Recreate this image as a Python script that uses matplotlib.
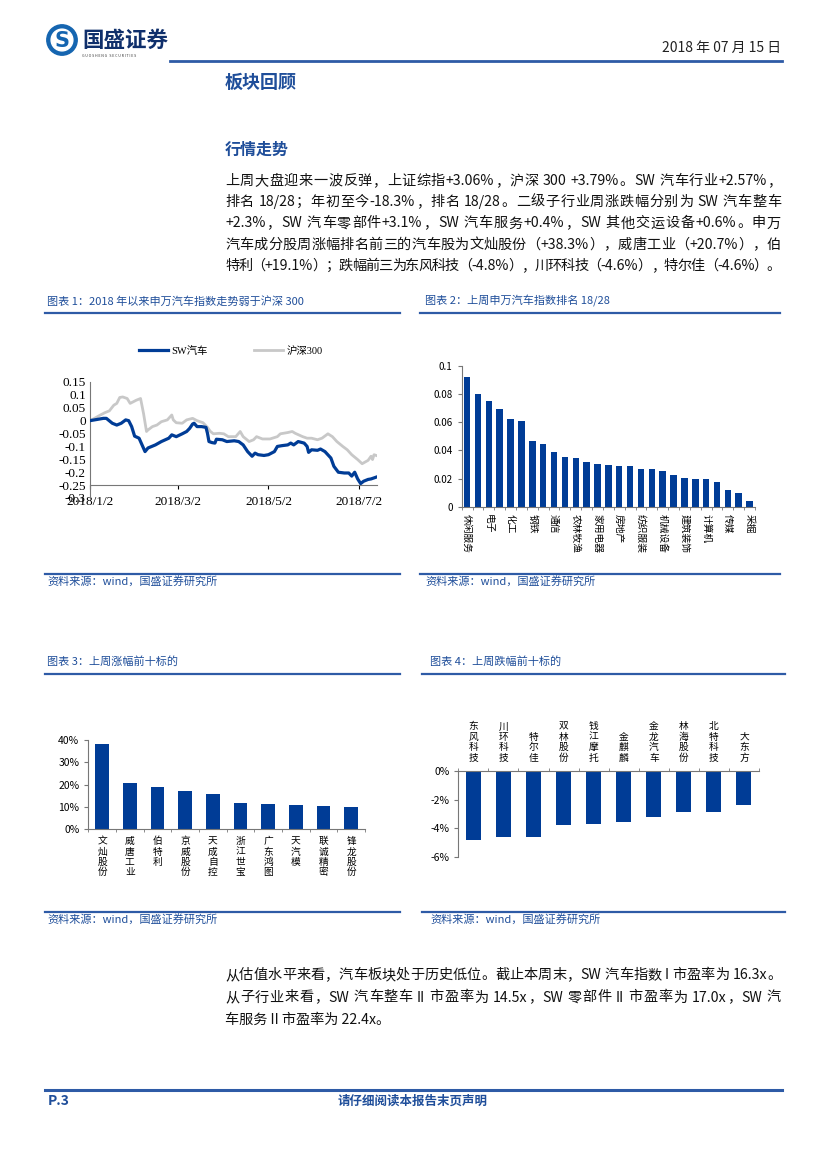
import re
import numpy as np
import pandas as pd
import matplotlib
matplotlib.use("Agg")
import matplotlib.pyplot as plt
from matplotlib.ticker import FuncFormatter, FixedLocator
from matplotlib.patches import Circle

plt.rcParams['font.family'] = ['Noto Sans CJK SC', 'DejaVu Sans']
plt.rcParams['axes.unicode_minus'] = False

W, H = 827, 1169
BLUE = "#003C96"
HEAD = "#1F4E9A"
LINE = "#2E5BA6"

# ---- chart 1: index trend (days since 2018/1/2, cumulative return) ----
sw_days = [0, 9, 11, 15, 18, 21, 24, 26, 28, 30, 33, 35, 37, 39, 44, 48, 53, 55, 58, 62,
           65, 67, 69, 70, 72, 75, 78, 79, 80, 82, 84, 85, 89, 92, 97, 100, 103, 106, 109,
           111, 113, 117, 120, 124, 126, 129, 133, 135, 137, 140, 144, 146, 147, 149, 153,
           155, 158, 162, 164, 167, 171, 174, 176, 178, 180, 182, 184, 187, 189, 191, 193]
sw_vals = [0.0, 0.009, 0.009, -0.01, -0.017, -0.01, 0.003, 0.0, -0.023, -0.06, -0.068,
           -0.094, -0.12, -0.106, -0.094, -0.081, -0.068, -0.055, -0.062, -0.051, -0.042,
           -0.03, -0.013, -0.01, -0.023, -0.023, -0.026, -0.049, -0.081, -0.085, -0.087,
           -0.072, -0.074, -0.081, -0.078, -0.081, -0.094, -0.12, -0.138, -0.126, -0.132,
           -0.135, -0.132, -0.12, -0.1, -0.097, -0.094, -0.087, -0.094, -0.081, -0.087,
           -0.1, -0.123, -0.113, -0.115, -0.11, -0.12, -0.145, -0.177, -0.2, -0.203,
           -0.203, -0.215, -0.2, -0.226, -0.244, -0.235, -0.228, -0.226, -0.222, -0.218]
hs_days = [0, 3, 7, 10, 13, 16, 18, 20, 22, 25, 27, 29, 31, 34, 36, 38, 39, 42, 45, 48,
           52, 55, 56, 58, 62, 65, 69, 72, 76, 79, 81, 83, 87, 90, 93, 98, 101, 103, 107,
           110, 112, 116, 121, 126, 128, 133, 136, 138, 143, 146, 149, 153, 156, 160, 163,
           166, 170, 173, 176, 180, 183, 187, 189, 190, 191, 193]
hs_vals = [0.0, 0.009, 0.022, 0.031, 0.038, 0.06, 0.067, 0.09, 0.092, 0.086, 0.067, 0.073,
           0.079, 0.086, 0.028, -0.042, -0.036, -0.023, -0.017, -0.004, 0.003, 0.022, 0.003,
           -0.008, -0.01, 0.003, 0.009, 0.0, -0.008, -0.026, -0.042, -0.051, -0.049, -0.051,
           -0.062, -0.062, -0.042, -0.062, -0.081, -0.074, -0.062, -0.071, -0.071, -0.062,
           -0.051, -0.046, -0.042, -0.049, -0.062, -0.068, -0.068, -0.074, -0.068, -0.051,
           -0.062, -0.081, -0.1, -0.113, -0.132, -0.151, -0.167, -0.154, -0.138, -0.151,
           -0.132, -0.136]
date_ticks = ["2018-01-02", "2018-03-02", "2018-05-02", "2018-07-02"]

# ---- chart 2: SW industries weekly change ----
ind_vals = [0.0919, 0.0801, 0.0749, 0.0692, 0.0621, 0.0607, 0.0467, 0.0448, 0.0389,
            0.0355, 0.0344, 0.0315, 0.0303, 0.0296, 0.0291, 0.0287, 0.0268, 0.0265,
            0.0256, 0.0223, 0.0206, 0.0199, 0.0194, 0.0173, 0.0121, 0.0097, 0.0040]
ind_labels = ["休闲服务", "电子", "化工", "钢铁", "通信", "农林牧渔", "家用电器", "房地产",
              "纺织服装", "机械设备", "建筑装饰", "计算机", "传媒", "采掘"]

# ---- chart 3: top 10 gainers ----
up_names = ["文灿股份", "威唐工业", "伯特利", "京威股份", "天成自控", "浙江世宝",
            "广东鸿图", "天汽模", "联诚精密", "锋龙股份"]
up_vals = [0.383, 0.207, 0.191, 0.173, 0.158, 0.119, 0.112, 0.109, 0.103, 0.100]

# ---- chart 4: top 10 losers ----
dn_names = ["东风科技", "川环科技", "特尔佳", "双林股份", "钱江摩托", "金麒麟",
            "金龙汽车", "林海股份", "北特科技", "大东方"]
dn_vals = [-0.048, -0.046, -0.046, -0.038, -0.037, -0.036, -0.032, -0.029, -0.029, -0.024]

para1 = [
    "上周大盘迎来一波反弹，上证综指+3.06%，沪深 300 +3.79%。SW 汽车行业+2.57%，",
    "排名 18/28；年初至今-18.3%，排名 18/28。二级子行业周涨跌幅分别为 SW 汽车整车",
    "+2.3%，SW 汽车零部件+3.1%，SW 汽车服务+0.4%，SW 其他交运设备+0.6%。申万",
    "汽车成分股周涨幅排名前三的汽车股为文灿股份（+38.3%），威唐工业（+20.7%），伯",
    "特利（+19.1%）；跌幅前三为东风科技（-4.8%），川环科技（-4.6%），特尔佳（-4.6%）。",
]
para2 = [
    "从估值水平来看，汽车板块处于历史低位。截止本周末，SW 汽车指数 I 市盈率为 16.3x。",
    "从子行业来看，SW 汽车整车 II 市盈率为 14.5x，SW 零部件 II 市盈率为 17.0x，SW 汽",
    "车服务 II 市盈率为 22.4x。",
]


def fx(x):
    return x / W


def fy(y):
    return 1 - y / H


def txt(x, y, s, **kw):
    return fig.text(fx(x), fy(y), s, **kw)


def hline(x0, x1, y, lw=1.6, color=LINE):
    fig.add_artist(plt.Line2D([fx(x0), fx(x1)], [fy(y), fy(y)], lw=lw, color=color))


def axes_px(x0, y0, x1, y1):
    return fig.add_axes([fx(x0), fy(y1), (x1 - x0) / W, (y1 - y0) / H])


def justify(x0, x1, y, line, **kw):
    # spread the tokens of one line so that it fills x0..x1
    tokens = re.findall(r'[A-Za-z0-9.+\-%/]+| |.', line)
    renderer = fig.canvas.get_renderer()
    widths = []
    for t in tokens:
        if t == ' ':
            widths.append(kw.get('fontsize', 10) * 0.3)
            continue
        a = txt(0, 0, t, **kw)
        widths.append(a.get_window_extent(renderer).width)
        a.remove()
    gap = (x1 - x0 - sum(widths)) / (len(tokens) - 1)
    x = x0
    for t, w in zip(tokens, widths):
        if t != ' ':
            txt(x, y, t, va='center', **kw)
        x += w + gap


fig = plt.figure(figsize=(W / 100, H / 100), dpi=100)

# ---- page header ----
logo = fig.add_axes([fx(46), fy(56), 32 / W, 32 / H])
logo.set_xlim(-1, 1)
logo.set_ylim(-1, 1)
logo.set_aspect('equal')
logo.axis('off')
logo.add_patch(Circle((0, 0), 0.95, color="#1565B0"))
logo.add_patch(Circle((0, 0), 0.68, color="white"))
logo.text(0, -0.05, "S", ha='center', va='center', fontsize=15, fontweight='bold',
          color="#1565B0", family='DejaVu Sans')
txt(82, 40, "国盛证券", fontsize=15.5, fontweight='bold', color="#0F2F6B", va='center')
txt(82, 56, "G U O S H E N G   S E C U R I T I E S", fontsize=2.6, color="#333333",
    va='center')
txt(781, 48, "2018 年 07 月 15 日", fontsize=10, ha='right', va='center', color="#222222")
hline(170, 782, 61, lw=2.0)

txt(225, 82, "板块回顾", fontsize=13, fontweight='bold', color=HEAD, va='center')
txt(225, 150, "行情走势", fontsize=11.5, fontweight='bold', color=HEAD, va='center')
for i, line in enumerate(para1):
    justify(225, 781, 181 + i * 21.2, line, fontsize=10.2, color="#111111")

# ---- chart titles / rules / sources ----
ttl = dict(fontsize=8, style='italic', color=HEAD, va='center')
txt(47, 301, "图表 1：2018 年以来申万汽车指数走势弱于沪深 300", **ttl)
txt(425, 301, "图表 2：上周申万汽车指数排名 18/28", **ttl)
txt(47, 662, "图表 3：上周涨幅前十标的", **ttl)
txt(430, 662, "图表 4：上周跌幅前十标的", **ttl)
hline(45, 400, 313)
hline(420, 780, 313)
hline(45, 400, 674)
hline(422, 785, 674)
hline(45, 400, 574)
hline(420, 780, 574)
hline(45, 400, 912)
hline(422, 785, 912)
src = "资料来源：wind，国盛证券研究所"
txt(47, 581, src, **ttl)
txt(425, 581, src, **ttl)
txt(47, 919, src, **ttl)
txt(430, 919, src, **ttl)

# ---- chart 1 ----
ax1 = axes_px(90, 382, 377, 498)
base = pd.Timestamp("2018-01-02")
sw_x = base + pd.to_timedelta(sw_days, unit='D')
hs_x = base + pd.to_timedelta(hs_days, unit='D')
ax1.plot(sw_x, sw_vals, color=BLUE, lw=2.3, label="SW汽车", zorder=3)
ax1.plot(hs_x, hs_vals, color="#C8C8C8", lw=2.0, label="沪深300", zorder=2)
ax1.set_ylim(-0.3, 0.15)
ax1.set_xlim(base, base + pd.Timedelta(days=193))
ax1.set_yticks(np.arange(-0.3, 0.151, 0.05))
ax1.yaxis.set_major_formatter(FuncFormatter(lambda v, p: f"{v:g}" if abs(v) > 1e-9 else "0"))
ticks = pd.to_datetime(date_ticks)
ax1.set_xticks(ticks)
ax1.set_xticklabels([f"{d.year}/{d.month}/{d.day}" for d in ticks])
for s in ["top", "right"]:
    ax1.spines[s].set_visible(False)
ax1.spines['bottom'].set_position(('data', -0.25))
ax1.tick_params(axis='x', length=3, pad=5, labelsize=9.5, labelfontfamily='Liberation Serif')
ax1.tick_params(axis='y', length=0, pad=3, labelsize=9.5, labelfontfamily='Liberation Serif')
for s in ["left", "bottom"]:
    ax1.spines[s].set_color("#777777")
    ax1.spines[s].set_linewidth(0.8)
ax1.legend(loc='center', bbox_to_anchor=(0.49, 1.27), ncol=2, frameon=False,
           handlelength=2.8, columnspacing=4.5, handletextpad=0.3,
           prop={'family': ['Liberation Serif', 'Noto Sans CJK SC'], 'size': 7.5})

# ---- chart 2 ----
ax2 = axes_px(461.7, 366, 755, 506.7)
ax2.bar(np.arange(len(ind_vals)), ind_vals, width=0.6, color=BLUE)
ax2.set_xlim(-0.5, len(ind_vals) - 0.5)
ax2.set_ylim(0, 0.1)
ax2.set_yticks(np.arange(0, 0.101, 0.02))
ax2.yaxis.set_major_formatter(FuncFormatter(lambda v, p: f"{v:g}" if v > 1e-9 else "0"))
ax2.set_xticks(np.arange(0, len(ind_vals), 2))
ax2.set_xticklabels(ind_labels, rotation=270, va='top', ha='center', fontsize=7)
ax2.xaxis.set_minor_locator(FixedLocator(np.arange(-0.5, len(ind_vals), 1)))
ax2.tick_params(axis='x', which='major', length=0, pad=5)
ax2.tick_params(axis='x', which='minor', length=2.5, color="#777777")
ax2.tick_params(axis='y', length=3, labelsize=7, color="#777777")
for s in ["top", "right"]:
    ax2.spines[s].set_visible(False)
for s in ["left", "bottom"]:
    ax2.spines[s].set_color("#777777")
    ax2.spines[s].set_linewidth(0.8)

# ---- chart 3 ----
ax3 = axes_px(88.3, 740, 365, 829.3)
ax3.bar(np.arange(len(up_vals)), up_vals, width=0.5, color=BLUE)
ax3.set_xlim(-0.5, len(up_vals) - 0.5)
ax3.set_ylim(0, 0.4)
ax3.set_yticks(np.arange(0, 0.401, 0.1))
ax3.yaxis.set_major_formatter(FuncFormatter(lambda v, p: f"{v * 100:.0f}%"))
ax3.set_xticks(np.arange(len(up_vals)))
ax3.set_xticklabels(["\n".join(n) for n in up_names], fontsize=7, linespacing=1.05)
ax3.xaxis.set_minor_locator(FixedLocator(np.arange(-0.5, len(up_vals), 1)))
ax3.tick_params(axis='x', which='major', length=0, pad=5)
ax3.tick_params(axis='x', which='minor', length=2.5, color="#777777")
ax3.tick_params(axis='y', length=3, labelsize=7.5, color="#777777")
for s in ["top", "right"]:
    ax3.spines[s].set_visible(False)
for s in ["left", "bottom"]:
    ax3.spines[s].set_color("#777777")
    ax3.spines[s].set_linewidth(0.8)

# ---- chart 4 ----
ax4 = axes_px(458.3, 771, 759, 856.7)
ax4.bar(np.arange(len(dn_vals)), dn_vals, width=0.5, color=BLUE)
ax4.set_xlim(-0.5, len(dn_vals) - 0.5)
ax4.set_ylim(-0.06, 0)
ax4.set_yticks(np.arange(-0.06, 0.001, 0.02))
ax4.yaxis.set_major_formatter(FuncFormatter(lambda v, p: f"{v * 100:.0f}%" if abs(v) > 1e-9 else "0%"))
ax4.xaxis.tick_top()
ax4.set_xticks(np.arange(len(dn_vals)))
ax4.set_xticklabels(["\n".join(n) for n in dn_names], fontsize=7, linespacing=1.05)
ax4.xaxis.set_minor_locator(FixedLocator(np.arange(-0.5, len(dn_vals), 1)))
ax4.tick_params(axis='x', which='major', length=0, pad=6)
ax4.tick_params(axis='x', which='minor', length=2.5, color="#777777")
ax4.tick_params(axis='y', length=3, labelsize=7.5, color="#777777")
for s in ["bottom", "right"]:
    ax4.spines[s].set_visible(False)
for s in ["left", "top"]:
    ax4.spines[s].set_color("#777777")
    ax4.spines[s].set_linewidth(0.8)

# ---- bottom paragraph and footer ----
for i, line in enumerate(para2):
    if i < len(para2) - 1:
        justify(225, 781, 975 + i * 22.5, line, fontsize=10.2, color="#111111")
    else:
        txt(225, 975 + i * 22.5, line, fontsize=10.2, va='center', color="#111111")
hline(45, 782, 1090, lw=2.2)
txt(48, 1101, "P.3", fontsize=10, fontweight='bold', style='italic', color=HEAD, va='center')
txt(413, 1101, "请仔细阅读本报告末页声明", fontsize=9, fontweight='bold', style='italic',
    color=HEAD, va='center', ha='center')

fig.savefig("out.png", dpi=100)
